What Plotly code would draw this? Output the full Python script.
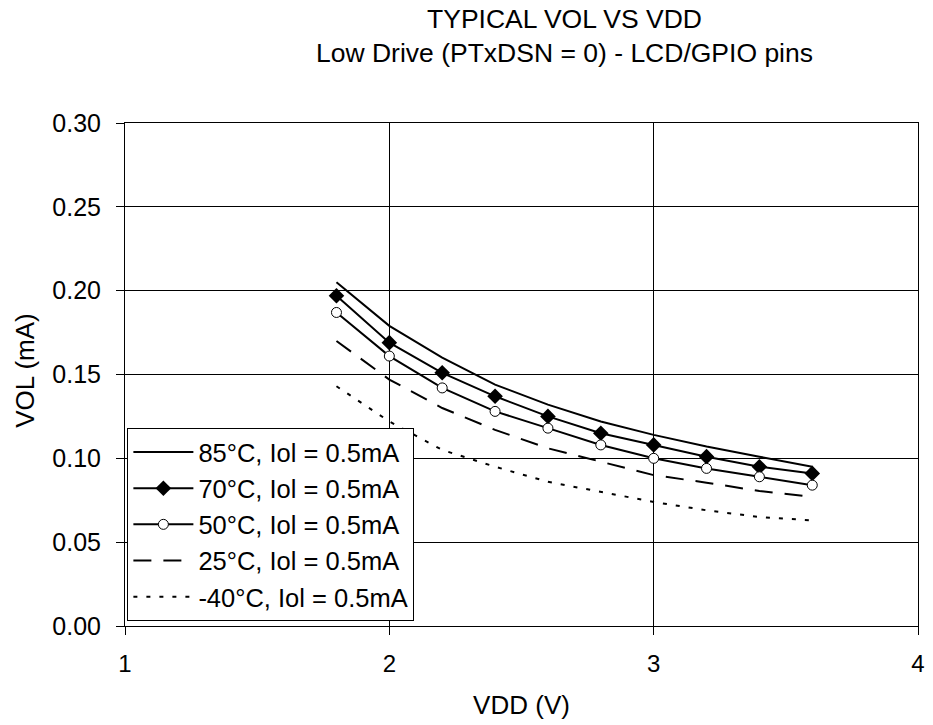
import plotly.graph_objects as go

vdd = [1.8, 2.0, 2.2, 2.4, 2.6, 2.8, 3.0, 3.2, 3.4, 3.6]
vol_85 = [0.205, 0.179, 0.160, 0.144, 0.132, 0.122, 0.114, 0.107, 0.101, 0.095]
vol_70 = [0.197, 0.169, 0.151, 0.137, 0.125, 0.115, 0.108, 0.101, 0.095, 0.091]
vol_50 = [0.187, 0.161, 0.142, 0.128, 0.118, 0.108, 0.100, 0.094, 0.089, 0.084]
vol_25 = [0.170, 0.147, 0.130, 0.117, 0.106, 0.098, 0.090, 0.0855, 0.0805, 0.077]
vol_m40 = [0.143, 0.122, 0.105, 0.095, 0.086, 0.080, 0.074, 0.069, 0.065, 0.063]

names = ["85°C, Iol = 0.5mA", "70°C, Iol = 0.5mA", "50°C, Iol = 0.5mA",
         "25°C, Iol = 0.5mA", "-40°C, Iol = 0.5mA"]
x_ticks = [1, 2, 3, 4]
y_ticks = [0.00, 0.05, 0.10, 0.15, 0.20, 0.25, 0.30]
title_lines = ["TYPICAL VOL VS VDD", "Low Drive (PTxDSN = 0) - LCD/GPIO pins"]
y_title = "VOL (mA)"
x_title = "VDD (V)"

fig = go.Figure()
fig.add_trace(go.Scatter(x=vdd, y=vol_85, name=names[0], mode="lines",
                         line=dict(color="black", width=2), legendgroup="a"))
fig.add_trace(go.Scatter(x=vdd, y=vol_70, name=names[1], mode="lines+markers",
                         line=dict(color="black", width=2),
                         marker=dict(symbol="diamond", size=12, color="black"),
                         legendgroup="b"))
fig.add_trace(go.Scatter(x=vdd, y=vol_50, name=names[2], mode="lines+markers",
                         line=dict(color="black", width=2),
                         marker=dict(symbol="circle", size=10, color="white",
                                     line=dict(color="black", width=1)),
                         legendgroup="c"))
fig.add_trace(go.Scatter(x=vdd, y=vol_25, name=names[3], mode="lines",
                         line=dict(color="black", width=2, dash="18px,12px"),
                         legendgroup="d"))
fig.add_trace(go.Scatter(x=vdd, y=vol_m40, name=names[4], mode="lines",
                         line=dict(color="black", width=2, dash="4px,9px"),
                         legendgroup="e"))

font = "Liberation Sans, Arial, sans-serif"
H_PLOT = 725 - 123 - 99
W_PLOT = 933 - 125 - 8
fig.update_layout(
    width=933, height=725,
    margin=dict(l=125, r=8, t=123, b=99),
    paper_bgcolor="white", plot_bgcolor="white",
    font=dict(family=font, size=24, color="black"),
    xaxis=dict(range=[1, 4], tickvals=x_ticks, ticktext=[str(v) for v in x_ticks],
               showgrid=True, gridcolor="black", gridwidth=1,
               showline=True, linecolor="black", mirror=True, zeroline=False,
               ticks="outside", ticklen=8, tickcolor="black",
               ticklabelstandoff=8, tickfont=dict(size=24),
               title=dict(text=x_title, standoff=20, font=dict(size=26))),
    yaxis=dict(range=[0, 0.30], tickvals=y_ticks,
               ticktext=["%.2f" % v for v in y_ticks],
               showgrid=True, gridcolor="black", gridwidth=1,
               showline=True, linecolor="black", mirror=True, zeroline=False,
               ticks="outside", ticklen=8, tickcolor="black",
               ticklabelstandoff=10, tickfont=dict(size=25)),
    legend=dict(x=0.003, y=0.01, xanchor="left", yanchor="bottom",
                bgcolor="white", bordercolor="black", borderwidth=1,
                tracegroupgap=0, itemwidth=60, font=dict(size=25.5)),
    showlegend=True,
    annotations=[
        dict(text="<br>".join(title_lines), xref="paper", yref="paper",
             x=0.554, xanchor="center", y=1 + 121 / H_PLOT, yanchor="top",
             showarrow=False, font=dict(size=26.5)),
        dict(text=y_title, xref="paper", yref="paper", textangle=-90,
             x=(24 - 125) / W_PLOT, xanchor="center", y=0.509, yanchor="middle",
             showarrow=False, font=dict(size=26)),
    ],
)

fig.write_html("out.html")
